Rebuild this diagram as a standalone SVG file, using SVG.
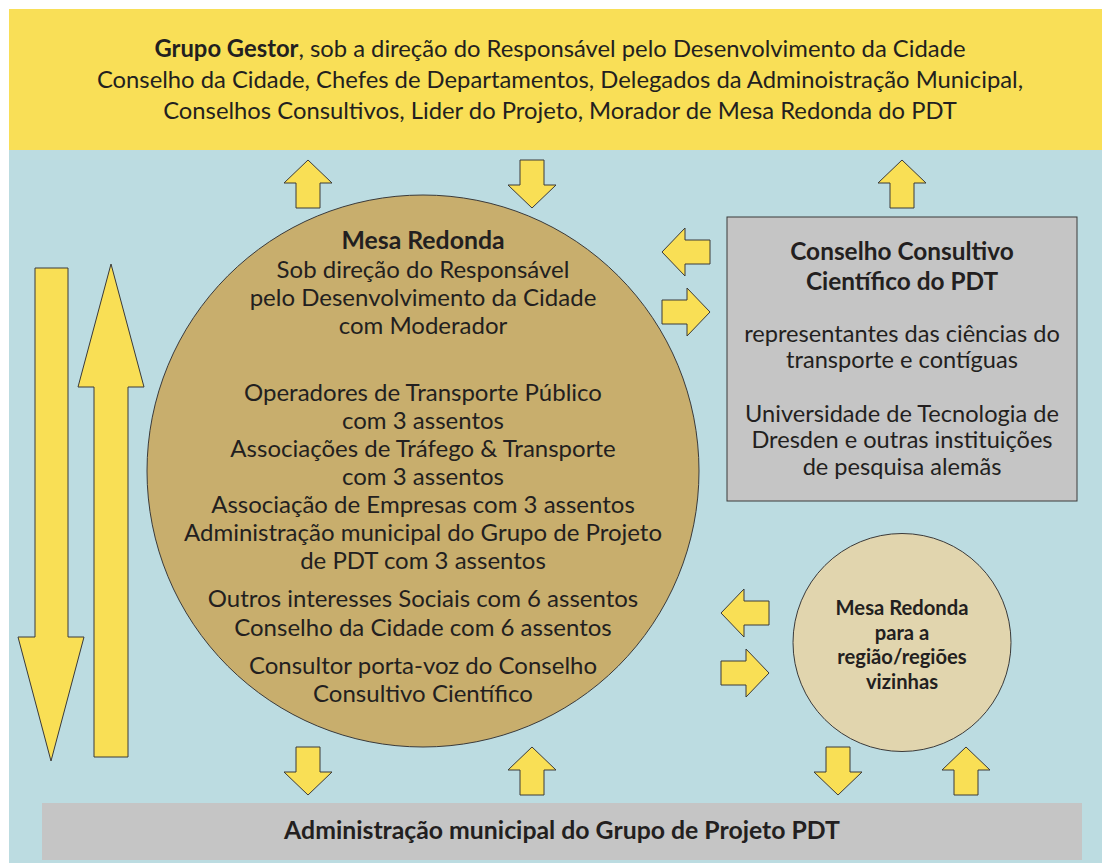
<svg xmlns="http://www.w3.org/2000/svg" width="1102" height="863" viewBox="0 0 1102 863">
<style>
.t{font-family:Lato,"Open Sans","Liberation Sans",sans-serif;fill:#231f20;text-anchor:middle;font-size:24px}
.b{font-weight:bold;font-size:24.8px}
.h{font-size:23.8px}
.g{font-size:23.6px}
.gb{font-size:24.4px}
.s{font-size:20.2px}
.arr{fill:#f9df55;stroke:#3a3a3a;stroke-width:1}
</style>
<defs>
<path id="up" class="arr" d="M0,-24 L24,-1 L12,-1 L12,24 L-12,24 L-12,-1 L-24,-1 Z"/>
</defs>
<rect x="9" y="150" width="1093" height="713" fill="#bcdce1"/>
<g id="grupo-gestor">
<rect x="9" y="9" width="1093" height="141" fill="#f9df57"/>
<text class="t h" x="560" y="57"><tspan font-weight="bold">Grupo Gestor</tspan>, sob a direção do Responsável pelo Desenvolvimento da Cidade</text>
<text class="t h" x="560" y="88">Conselho da Cidade, Chefes de Departamentos, Delegados da Adminoistração Municipal,</text>
<text class="t h" x="560" y="119">Conselhos Consultivos, Lider do Projeto, Morador de Mesa Redonda do PDT</text>
</g>
<g id="mesa-redonda">
<circle cx="423" cy="471" r="276" fill="#c8ae6d" stroke="#3a3a3a" stroke-width="1"/>
<text class="t b" x="423" y="249">Mesa Redonda</text>
<text class="t" x="423" y="278">Sob direção do Responsável</text>
<text class="t" x="423" y="306">pelo Desenvolvimento da Cidade</text>
<text class="t" x="423" y="334">com Moderador</text>
<text class="t" x="423" y="401">Operadores de Transporte Público</text>
<text class="t" x="423" y="429">com 3 assentos</text>
<text class="t" x="423" y="457">Associações de Tráfego &amp; Transporte</text>
<text class="t" x="423" y="485">com 3 assentos</text>
<text class="t" x="423" y="513">Associação de Empresas com 3 assentos</text>
<text class="t" x="423" y="541">Administração municipal do Grupo de Projeto</text>
<text class="t" x="423" y="569">de PDT com 3 assentos</text>
<text class="t" x="423" y="607">Outros interesses Sociais com 6 assentos</text>
<text class="t" x="423" y="636">Conselho da Cidade com 6 assentos</text>
<text class="t" x="423" y="674">Consultor porta-voz do Conselho</text>
<text class="t" x="423" y="702">Consultivo Científico</text>
</g>
<g id="conselho-consultivo">
<rect x="727" y="217" width="350" height="284" fill="#c5c5c5" stroke="#3a3a3a" stroke-width="1"/>
<text class="t b gb" x="902" y="259.5">Conselho Consultivo</text>
<text class="t b gb" x="902" y="289.5">Científico do PDT</text>
<text class="t g" x="902" y="342">representantes das ciências do</text>
<text class="t g" x="902" y="368">transporte e contíguas</text>
<text class="t g" x="902" y="422">Universidade de Tecnologia de</text>
<text class="t g" x="902" y="448">Dresden e outras instituições</text>
<text class="t g" x="902" y="475">de pesquisa alemãs</text>
</g>
<g id="mesa-regional">
<circle cx="902" cy="642.5" r="109" fill="#e1d5ae" stroke="#3a3a3a" stroke-width="1"/>
<text class="t b s" x="902" y="615">Mesa Redonda</text>
<text class="t b s" x="902" y="640">para a</text>
<text class="t b s" x="902" y="664">região/regiões</text>
<text class="t b s" x="902" y="689">vizinhas</text>
</g>
<g id="administracao">
<rect x="42" y="803" width="1040" height="57" fill="#c5c5c5"/>
<text class="t b" x="562" y="839">Administração municipal do Grupo de Projeto PDT</text>
</g>
<g id="connectors">
<path class="arr" d="M35,268 L68,268 L68,637 L84,637 L51,761 L18,637 L35,637 Z"/>
<path class="arr" d="M111,264 L144,387 L128,387 L128,757 L94,757 L94,387 L78,387 Z"/>
<use href="#up" transform="translate(308,184)"/>
<use href="#up" transform="translate(532,184) rotate(180)"/>
<use href="#up" transform="translate(902,184)"/>
<use href="#up" transform="translate(686,252) rotate(-90)"/>
<use href="#up" transform="translate(686,312) rotate(90)"/>
<use href="#up" transform="translate(745,613) rotate(-90)"/>
<use href="#up" transform="translate(745,673) rotate(90)"/>
<use href="#up" transform="translate(308,771) rotate(180)"/>
<use href="#up" transform="translate(532,771)"/>
<use href="#up" transform="translate(838,771) rotate(180)"/>
<use href="#up" transform="translate(966,771)"/>
</g>
</svg>
